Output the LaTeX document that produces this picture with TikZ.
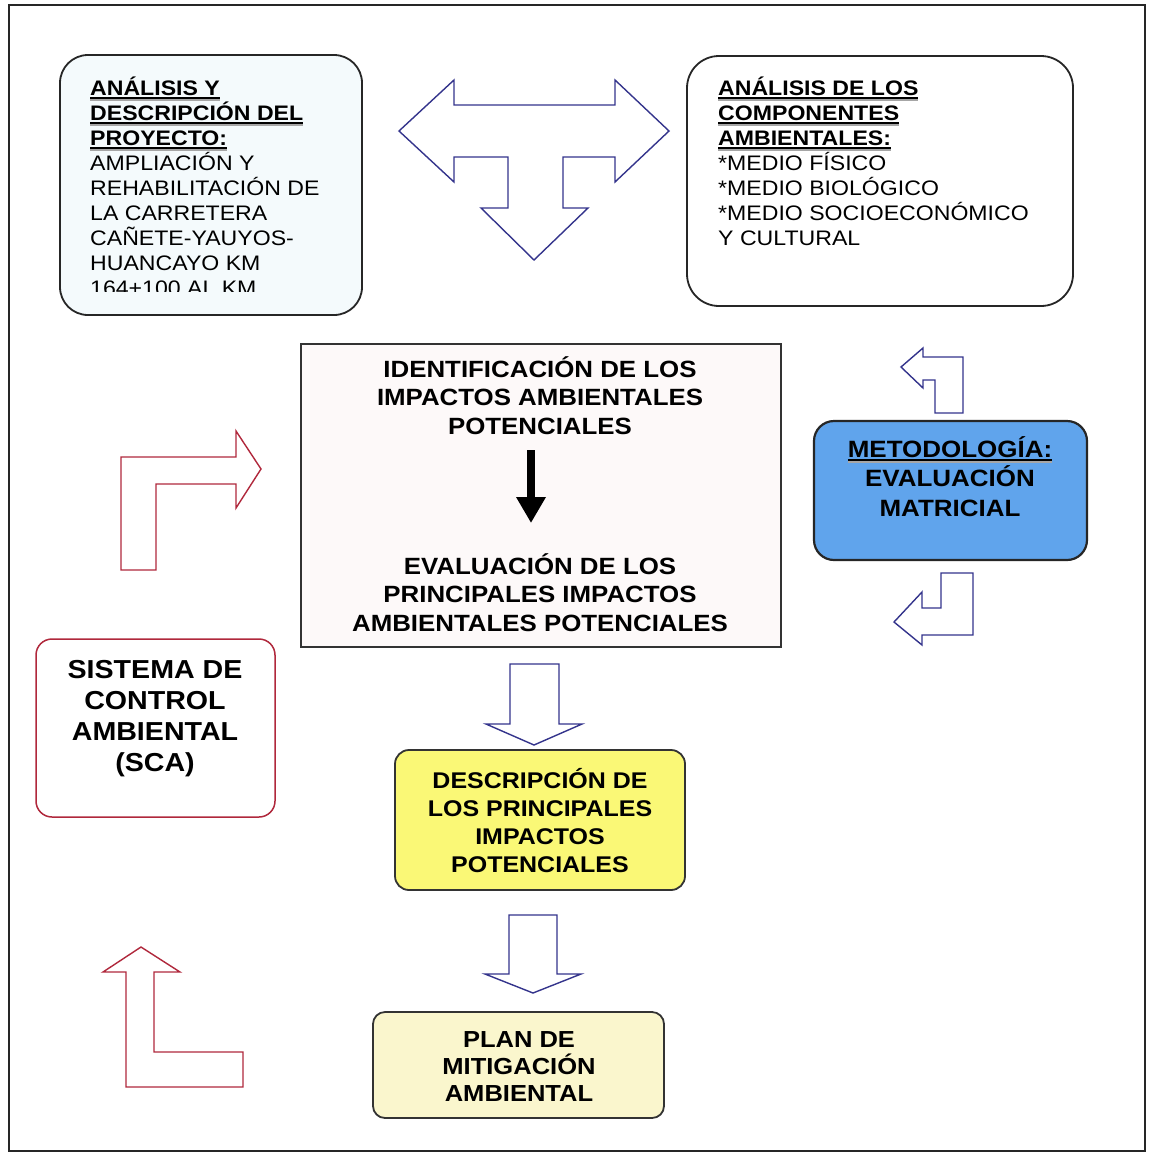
\documentclass[tikz,border=0pt]{standalone}
\usepackage{fontspec}
\setmainfont[FakeStretch=1.1]{Liberation Sans}
\usetikzlibrary{arrows.meta}
\definecolor{navyc}{RGB}{52,52,140}
\definecolor{redc}{RGB}{176,40,60}
\definecolor{bluef}{RGB}{96,164,236}
\definecolor{yellf}{RGB}{250,248,118}
\definecolor{planf}{RGB}{250,246,205}
\definecolor{boxaf}{RGB}{244,250,252}
\definecolor{boxcf}{RGB}{253,249,249}
\newcommand\hul[1]{\setbox0\hbox{#1}\rlap{\color{black!35}\rule[-6pt]{\wd0}{2pt}}\rlap{\rule[-4pt]{\wd0}{2pt}}\box0}
\tikzset{
  boxline/.style={line width=1.8pt, draw=black!85},
  navyarr/.style={draw=navyc, line width=1.4pt, line join=miter, fill=white},
  redarr/.style={draw=redc, line width=1.4pt, line join=miter, fill=white},
  smalltxt/.style={inner sep=0pt, align=left, font=\fontsize{21}{25}\selectfont},
  bigtxt/.style={inner sep=0pt, align=center, font=\fontsize{23.5}{28.5}\selectfont\bfseries},
}
\begin{document}
\begin{tikzpicture}[x=1pt,y=-1pt]
\useasboundingbox (0,0) rectangle (1155,1154);
\fill[white] (0,0) rectangle (1155,1154);
\draw[line width=1.8pt, black!85] (9,5) rectangle (1145,1151);

% Box A
\draw[boxline, fill=boxaf, rounded corners=28pt] (60,55) rectangle (362,315);
\begin{scope}
\clip (60,55) rectangle (362,291);
\node[smalltxt, anchor=north west] (ta) at (90,75) {\rule{0pt}{20pt}\bfseries\hul{ANÁLISIS Y}\\ \bfseries\hul{DESCRIPCIÓN DEL}\\ \bfseries\hul{PROYECTO:}\\ AMPLIACIÓN Y\\ REHABILITACIÓN DE\\ LA CARRETERA\\ CAÑETE-YAUYOS-\\ HUANCAYO KM\\ 164+100 AL KM};
\end{scope}

% Box B
\draw[boxline, fill=white, rounded corners=32pt] (687,56) rectangle (1073,306);
\node[smalltxt, anchor=north west] (tb) at (718,75) {\rule{0pt}{20pt}\bfseries\hul{ANÁLISIS DE LOS}\\ \bfseries\hul{COMPONENTES}\\ \bfseries\hul{AMBIENTALES:}\\ *MEDIO FÍSICO\\ *MEDIO BIOLÓGICO\\ *MEDIO SOCIOECONÓMICO\\ Y CULTURAL};

% T arrow
\draw[navyarr] (399,131) -- (454,80) -- (454,105) -- (615,105) -- (615,80) -- (669,131) -- (615,182) -- (615,157) -- (563,157) -- (563,208) -- (588,208) -- (534,260) -- (481,208) -- (508,208) -- (508,157) -- (454,157) -- (454,182) -- cycle;

% Center box
\draw[line width=2pt, draw=black!80, fill=boxcf] (301,344) rectangle (781,647);
\node[bigtxt, anchor=north] (idt) at (540,353) {\rule{0pt}{24pt}IDENTIFICACIÓN DE LOS\\ IMPACTOS AMBIENTALES\\ POTENCIALES};
\node[bigtxt, anchor=north] (evt) at (540,550) {\rule{0pt}{24pt}EVALUACIÓN DE LOS\\ PRINCIPALES IMPACTOS\\ AMBIENTALES POTENCIALES};
\coordinate (ka) at (531,450);
\coordinate (kb) at (531,523);
\draw[line width=8pt, -{Triangle[width=28pt,length=26pt]}] (ka) -- (kb);

% right small arrows
\draw[navyarr] (963,357) -- (963,413) -- (935,413) -- (935,380) -- (923,380) -- (923,388) -- (901,367) -- (923,348) -- (923,357) -- cycle;
\draw[line width=2.2pt, draw=black!85, fill=bluef, rounded corners=20pt] (814,421) rectangle (1087,560);
\node[inner sep=0pt, align=center, font=\fontsize{23.6}{29.5}\selectfont\bfseries, anchor=north] (met) at (950,433) {\rule{0pt}{24pt}\hul{METODOLOGÍA:}\\ EVALUACIÓN\\ MATRICIAL};
\draw[navyarr] (941,573) -- (973,573) -- (973,635) -- (922,635) -- (922,645) -- (894,622) -- (922,592) -- (922,608) -- (941,608) -- cycle;

% red L arrow
\draw[redarr] (121,457) -- (236,457) -- (236,431) -- (261,469) -- (236,508) -- (236,484) -- (156,484) -- (156,570) -- (121,570) -- cycle;

% SCA box
\draw[line width=1.5pt, draw=redc, fill=white, rounded corners=16pt] (36,639) rectangle (275,817);
\node[inner sep=0pt, align=center, font=\fontsize{26}{31}\selectfont\bfseries, anchor=north] (sca) at (155,652) {\rule{0pt}{26pt}SISTEMA DE\\ CONTROL\\ AMBIENTAL\\ (SCA)};

% down arrow 1
\draw[navyarr] (510,664) -- (559,664) -- (559,724) -- (582,724) -- (534,745) -- (486,724) -- (510,724) -- cycle;

% yellow box
\draw[line width=1.8pt, draw=black!80, fill=yellf, rounded corners=14pt] (395,750) rectangle (685,890);
\node[inner sep=0pt, align=center, font=\fontsize{22.7}{28}\selectfont\bfseries, anchor=north] (desc) at (540,765) {\rule{0pt}{23pt}DESCRIPCIÓN DE\\ LOS PRINCIPALES\\ IMPACTOS\\ POTENCIALES};

% down arrow 2
\draw[navyarr] (509,915) -- (557,915) -- (557,974) -- (581,974) -- (533,993) -- (485,974) -- (509,974) -- cycle;

% plan box
\draw[line width=1.8pt, draw=black!80, fill=planf, rounded corners=12pt] (373,1012) rectangle (664,1118);
\node[inner sep=0pt, align=center, font=\fontsize{23.2}{27}\selectfont\bfseries, anchor=north] (plan) at (519,1023) {\rule{0pt}{24pt}PLAN DE\\ MITIGACIÓN\\ AMBIENTAL};

% red up arrow
\draw[redarr] (141,947) -- (180,972) -- (154,972) -- (154,1052) -- (243,1052) -- (243,1087) -- (126,1087) -- (126,972) -- (103,972) -- cycle;
\end{tikzpicture}
\end{document}
